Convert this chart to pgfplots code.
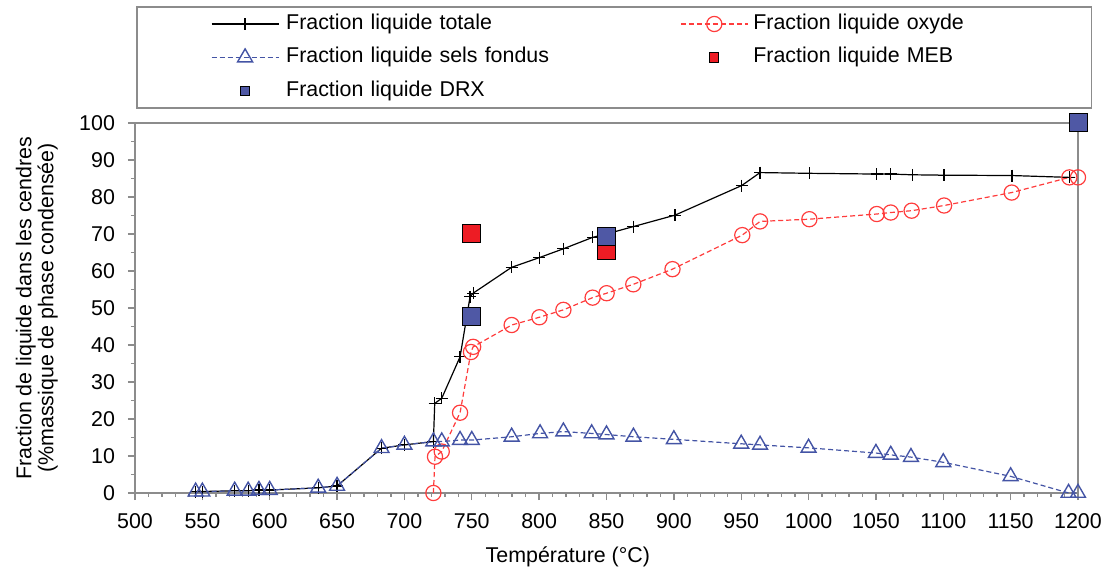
\documentclass[border=0pt]{standalone}
\usepackage{fontspec}
\setmainfont{Liberation Sans}
\usepackage{pgfplots}
\pgfplotsset{compat=1.18}

\definecolor{axgray}{RGB}{140,140,140}
\definecolor{oxred}{RGB}{255,60,60}
\definecolor{selblue}{RGB}{68,84,165}
\definecolor{mebred}{RGB}{237,28,36}
\definecolor{drxblue}{RGB}{79,88,165}

\newcommand{\chartfont}{\fontsize{10.7}{11}\selectfont}

\begin{document}
\begin{tikzpicture}
\useasboundingbox (-67.5pt,-40pt) rectangle (490pt,246.5pt);
\begin{axis}[
    scale only axis,
    width=471.5pt, height=185pt,
    xmin=500, xmax=1200, ymin=0, ymax=100,
    xtick={500,550,...,1200}, minor x tick num=4,
    ytick={0,10,...,100}, minor y tick num=1,
    xtick pos=bottom, ytick pos=left,
    tick align=outside,
    major tick length=3.5pt, minor tick length=2pt,
    axis line style={draw=axgray, line width=0.7pt},
    tick style={axgray, line width=0.7pt},
    /pgf/number format/assume math mode=true,
    /pgf/number format/1000 sep={},
    ticklabel style={font=\chartfont, black},
    xticklabel style={yshift=-3pt},
    yticklabel style={xshift=-3pt},
    label style={font=\chartfont},
    xlabel={Température (°C)},
    xlabel style={at={(axis description cs:0.459,-0.173)}, anchor=center},
    ylabel={Fraction de liquide dans les cendres\\(\%massique de phase condensée)},
    ylabel style={at={(axis description cs:-0.104,0.5)}, anchor=center, align=center},
    clip=false,
    legend columns=2,
    legend cell align=left,
    legend image code/.code={
        \draw[mark repeat=2, mark phase=2, #1]
            plot coordinates {(0pt,0pt) (16.75pt,0pt) (33.5pt,0pt)};
    },
    legend style={
        at={(axis description cs:0.00212,1.31351)}, anchor=north west,
        draw=axgray, line width=0.6pt, outer sep=0pt,
        font=\chartfont,
        inner xsep=37pt, inner ysep=3.5pt,
        row sep=6.75pt,
        nodes={inner sep=0pt, text height=7.5pt, text depth=2.5pt},
        /tikz/column 1/.style={column sep=3.5pt},
        /tikz/column 2/.style={text width=197pt},
        /tikz/column 3/.style={column sep=2.5pt},
        /tikz/column 4/.style={text width=132pt},
    },
    square legend/.style={
        legend image code/.code={
            \path[draw=none, fill=none] (0pt,0pt) -- (33.5pt,0pt);
            \draw[#1, only marks, mark size=2.3pt] plot coordinates {(16.75pt,0pt)};
        }
    },
]

% total liquid fraction
\addplot[black, line width=0.6pt, mark=+, mark size=3pt] coordinates {
    (545,0.4) (550,0.4) (574,0.6) (584,0.6) (592,0.8) (600,0.8)
    (636,1.4) (650,1.9) (683,12.1) (700,13) (721.5,13.9) (722.5,24.2)
    (727.7,25.6) (741.3,36.8) (748.7,53) (751,54) (779.6,61) (800,63.6)
    (818,66) (839.8,69.1) (850,70) (869.9,72) (900.9,75.1) (950.4,83.1)
    (964,86.6) (1000.6,86.4) (1050.6,86.2) (1061,86.2) (1077,86)
    (1100.6,85.9) (1151,85.8) (1193.6,85.3)
};
\addlegendentry{Fraction liquide totale}

% oxide liquid fraction
\addplot[oxred, line width=0.6pt, dash pattern=on 2.5pt off 1.5pt,
    mark=o, mark size=3.8pt, mark options={solid, fill=none, line width=0.6pt}] coordinates {
    (721.5,0) (722.7,9.8) (727.7,11.2) (741.3,21.7) (749.4,38.1) (751,39.5)
    (779.6,45.4) (800.2,47.5) (818,49.5) (839.7,52.8) (850.1,54)
    (869.9,56.4) (899,60.5) (950.8,69.7) (964,73.4) (1000.6,74)
    (1050.6,75.4) (1061,75.8) (1076.5,76.3) (1100.6,77.7) (1150.8,81.2)
    (1193.6,85.3) (1200,85.3)
};
\addlegendentry{Fraction liquide oxyde}

% molten salts liquid fraction
\addplot[selblue, line width=0.6pt, dash pattern=on 2.5pt off 1.5pt,
    mark=triangle, mark size=4.3pt, mark options={solid, fill=none, line width=0.7pt}] coordinates {
    (545,0.35) (550,0.35) (574,0.6) (584,0.6) (592,0.8) (600,0.8)
    (636,1.4) (650,1.9) (683,12.1) (700,13) (721.5,13.9) (727.7,13.9)
    (741.3,14.3) (750,14.3) (779.6,15.2) (800.7,16.1) (818,16.6)
    (839,16.1) (850,15.8) (870,15.2) (900,14.5) (950,13.3) (964,13)
    (1000,12.2) (1050,10.8) (1061,10.3) (1076,9.7) (1100,8.3)
    (1150,4.5) (1193,0) (1200,0)
};
\addlegendentry{Fraction liquide sels fondus}

% SEM
\addplot[only marks, mark=square*, mark size=4.5pt, square legend,
    mark options={fill=mebred, draw=black, line width=0.5pt}] coordinates {
    (750,70) (850,65.5)
};
\addlegendentry{Fraction liquide MEB}

% XRD
\addplot[only marks, mark=square*, mark size=4.5pt, square legend,
    mark options={fill=drxblue, draw=black, line width=0.5pt}] coordinates {
    (750,47.8) (850,69.4) (1200,100)
};
\addlegendentry{Fraction liquide DRX}

\end{axis}
\end{tikzpicture}
\end{document}
